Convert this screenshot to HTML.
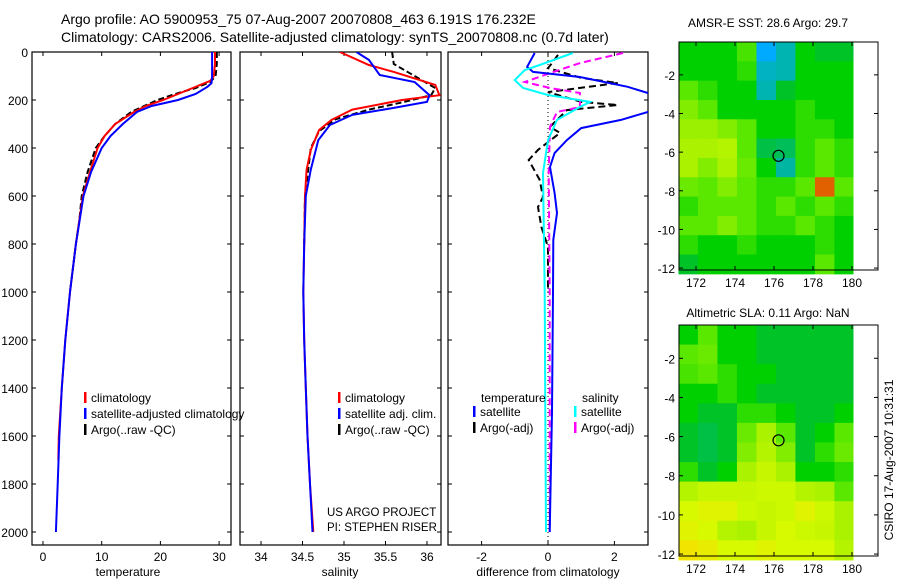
<!DOCTYPE html>
<html><head><meta charset="utf-8"><style>
html,body{margin:0;padding:0;background:#fff}
svg{display:block;font-family:"Liberation Sans",sans-serif}
text{fill:#000}
</style></head><body>
<svg id="chart" width="900" height="580" viewBox="0 0 900 580">
<text x="61" y="24" font-size="14">Argo profile: AO 5900953_75 07-Aug-2007 20070808_463 6.191S 176.232E</text>
<text x="61" y="42" font-size="14">Climatology: CARS2006. Satellite-adjusted climatology: synTS_20070808.nc (0.7d later)</text>
<g id="p1"></g>
<g id="p2"></g>
<g id="p3"></g>
<g id="m1"></g>
<g id="m2"></g>
<text x="768" y="27" font-size="12" text-anchor="middle">AMSR-E SST: 28.6 Argo: 29.7</text>
<text x="768" y="317" font-size="12" text-anchor="middle">Altimetric SLA: 0.11 Argo: NaN</text>
<text transform="translate(893,460) rotate(-90)" font-size="12" text-anchor="middle">CSIRO 17-Aug-2007 10:31:31</text>
<text x="327" y="516" font-size="11.5">US ARGO PROJECT</text>
<text x="327" y="531" font-size="11.5">PI: STEPHEN RISER</text>
</svg>
<script>
// ---- temperature data ----
const tDepthClim = [0,50,100,120,150,175,200,225,250,300,350,400,500,600,800,1000,1200,1400,1600,1700];
const tClim = [29.3,29.3,29.1,28.5,25.5,23,20.5,17.5,15.5,12.3,10.5,9.3,8,6.8,5.6,4.6,3.8,3.2,2.7,2.6];
const tDepthSat = [0,50,100,130,145,175,200,225,250,300,350,400,500,600,800,1000,1200,1400,1600,1800,2000];
const tSat = [28.8,28.8,28.8,28.7,28,26,23,18.5,16,13.6,11.5,10,8.2,6.9,5.6,4.6,3.8,3.2,2.8,2.5,2.2];
const tDepthArgo = [0,50,100,125,150,175,200,250,300,350,400,500,600,700,800,1000];
const tArgo = [29.6,29.6,29.4,28.5,26,22.5,19.5,15,12.3,10.5,9,7.6,6.6,6.2,5.6,4.6];
// ---- salinity data ----
const sDepthClim = [0,54,83,137,180,200,240,283,325,408,490,600,800,1000,1200,1400,1600,1800,2000];
const sClim = [34.95,35.3,35.6,36.1,36.15,35.7,35.1,34.85,34.7,34.6,34.55,34.53,34.52,34.51,34.52,34.54,34.56,34.59,34.63];
const sDepthSat = [0,33,96,125,180,208,233,262,304,367,490,600,800,1000,1200,1400,1600,1800,2000];
const sSat = [35.15,35.3,35.43,35.85,36.03,36,35.6,35.1,34.83,34.69,34.6,34.54,34.52,34.51,34.52,34.54,34.56,34.59,34.62];
const sDepthArgo = [0,50,100,150,180,210,240,280,330,400,600,800];
const sArgo = [35.58,35.6,35.85,36.1,36.05,35.7,35.3,34.9,34.7,34.6,34.53,34.52];
// ---- differences ----
const dDepthTSat = [4,62,83,104,145,179,242,283,317,367,421,479,588,671,783,1000,1500,2000];
const dTSat = [-0.4,-0.63,-0.45,0.96,2.4,3.2,3.2,2.2,1,0.57,0.2,0.06,0.2,0.27,0.16,0.15,0.12,0.05];
const dDepthSSat = [4,54,75,117,150,179,208,229,283,367,504,1000,1500,2000];
const dSSat = [0.75,-0.25,-0.7,-1,-0.75,0,1.27,0.96,0.27,0,-0.15,-0.1,-0.08,-0.06];
const dDepthSArgo = [4,46,88,125,150,171,229,250,312,500,1000,1500,2000];
const dSArgo = [2.26,0.97,0.06,-0.7,0.06,0.96,0.96,0.27,0.06,0.02,0.05,0.05,0.05];
const dDepthTArgo = [12,50,67,108,129,167,208,221,242,312,337,408,450,533,604,646,729,812,950,1000];
const dTArgo = [0.3,0.1,0,1,2.1,0,1,2.1,0.57,0.06,0.36,-0.3,-0.58,-0.25,-0.15,-0.3,-0.2,0,0,0];
// ---- maps (1-degree coarse cells, normalized colour index) ----
const sstRows = [
[.5,.5,.5,.58,.2,.3,.5,.45,.45],
[.5,.5,.5,.55,.28,.3,.5,.5,.5],
[.6,.55,.5,.5,.3,.45,.5,.5,.5],
[.65,.6,.5,.5,.5,.5,.55,.5,.5],
[.68,.68,.65,.6,.5,.5,.55,.55,.5],
[.7,.7,.72,.6,.42,.4,.55,.6,.55],
[.7,.65,.7,.62,.5,.32,.55,.6,.55],
[.62,.6,.65,.6,.55,.55,.6,.95,.6],
[.55,.6,.6,.6,.55,.6,.55,.6,.55],
[.6,.6,.65,.6,.55,.55,.6,.55,.5],
[.55,.5,.5,.55,.5,.5,.5,.55,.5],
[.45,.5,.5,.5,.5,.5,.5,.6,.5]];
const slaRows = [
[.5,.6,.5,.5,.45,.45,.45,.45,.45],
[.6,.62,.5,.5,.45,.45,.45,.45,.45],
[.58,.6,.55,.5,.5,.45,.45,.45,.45],
[.5,.5,.55,.5,.45,.45,.45,.45,.45],
[.5,.45,.45,.55,.55,.5,.45,.45,.5],
[.45,.42,.45,.62,.7,.6,.45,.5,.6],
[.45,.42,.45,.65,.72,.65,.45,.55,.62],
[.55,.45,.5,.7,.75,.7,.5,.5,.55],
[.72,.75,.75,.75,.76,.76,.72,.7,.6],
[.78,.8,.8,.76,.75,.76,.8,.76,.7],
[.8,.78,.72,.7,.75,.78,.76,.75,.7],
[.84,.82,.78,.78,.8,.78,.78,.78,.72]];
const mapLonTicks = [172,174,176,178,180];
const mapLatTicks = [-2,-4,-6,-8,-10,-12];

const NS='http://www.w3.org/2000/svg';
function mk(parent,tag,attrs){const e=document.createElementNS(NS,tag);for(const k in attrs)e.setAttribute(k,attrs[k]);parent.appendChild(e);return e;}
const TOP=52, BOT=545;
const yD = d => 52 + d*0.24;

function panel(g, x0, x1, xs, xticks, xlabel, xlabx, name){
  const r=mk(g,'rect',{x:x0,y:TOP,width:x1-x0,height:BOT-TOP,fill:'none',stroke:'#000','stroke-width':1.2});
  
  
  xticks.forEach(v=>{
    const x=xs(v);
    mk(g,'line',{x1:x,y1:BOT,x2:x,y2:BOT-4,stroke:'#000'});
    mk(g,'line',{x1:x,y1:TOP,x2:x,y2:TOP+4,stroke:'#000'});
    const t=mk(g,'text',{x:x,y:BOT+16,'font-size':12,'text-anchor':'middle'});
    t.textContent=v;
    
    
  });
  for(let d=0;d<=2000;d+=200){
    mk(g,'line',{x1:x0,y1:yD(d),x2:x0+4,y2:yD(d),stroke:'#000'});
    mk(g,'line',{x1:x1,y1:yD(d),x2:x1-4,y2:yD(d),stroke:'#000'});
  }
  const xl=mk(g,'text',{x:xlabx,y:576,'font-size':12,'text-anchor':'middle'});
  xl.textContent=xlabel;
  
  
}
function line(g, depths, vals, xs, color, dash, name, clip){
  let p='';
  depths.forEach((d,i)=>{p+=(i?'L':'M')+xs(vals[i]).toFixed(1)+','+yD(d).toFixed(1);});
  const a={d:p,fill:'none',stroke:color,'stroke-width':2};
  if(dash)a['stroke-dasharray']=dash;
  if(clip)a['clip-path']=clip;
  const e=mk(g,'path',a);
  
  
}
function legend(g,x,y,color,label){
  mk(g,'rect',{x:x,y:y-10,width:2.5,height:11,fill:color});
  const t=mk(g,'text',{x:x+7,y:y,'font-size':12});
  t.textContent=label;
  
  
}
const svg=document.getElementById('chart');
const defs=mk(svg,'defs',{});
[['c1',32,231],['c2',240,441],['c3',448,648]].forEach(c=>{
  const cp=mk(defs,'clipPath',{id:c[0]});mk(cp,'rect',{x:c[1],y:TOP,width:c[2]-c[1],height:BOT-TOP});
});

// Panel 1
const p1=document.getElementById('p1');
const xT=v=>43+v*5.87;
panel(p1,32,231,xT,[0,10,20,30],'temperature',128,'temperature-panel');
for(let d=0;d<=2000;d+=200){const t=mk(p1,'text',{x:28,y:yD(d)+5,'font-size':12,'text-anchor':'end'});t.textContent=d;
  
  }
line(p1,tDepthArgo,tArgo,xT,'#000','6,3','temp-argo-line','url(#c1)');
line(p1,tDepthClim,tClim,xT,'#f00',null,'temp-climatology-line','url(#c1)');
line(p1,tDepthSat,tSat,xT,'#00f',null,'temp-satellite-line','url(#c1)');
legend(p1,84,402,'#f00','climatology');
legend(p1,84,418,'#00f','satellite-adjusted climatology');
legend(p1,84,434,'#000','Argo(..raw -QC)');

// Panel 2
const p2=document.getElementById('p2');
const xS=v=>261+(v-34)*83;
panel(p2,240,441,xS,[34,34.5,35,35.5,36],'salinity',340,'salinity-panel');
line(p2,sDepthArgo,sArgo,xS,'#000','6,3','sal-argo-line','url(#c2)');
line(p2,sDepthClim,sClim,xS,'#f00',null,'sal-climatology-line','url(#c2)');
line(p2,sDepthSat,sSat,xS,'#00f',null,'sal-satellite-line','url(#c2)');
legend(p2,338,402,'#f00','climatology');
legend(p2,338,418,'#00f','satellite adj. clim.');
legend(p2,338,434,'#000','Argo(..raw -QC)');

// Panel 3
const p3=document.getElementById('p3');
const xDf=v=>548+v*33.2;
panel(p3,448,648,xDf,[-2,0,2],'difference from climatology',548,'difference-panel');
mk(p3,'line',{x1:548,y1:TOP,x2:548,y2:BOT,stroke:'#000','stroke-dasharray':'1,3'});
line(p3,dDepthTArgo,dTArgo,xDf,'#000','7,4','diff-temp-argo-line','url(#c3)');
line(p3,dDepthSArgo,dSArgo,xDf,'#f0f','7,4','diff-sal-argo-line','url(#c3)');
line(p3,dDepthTSat,dTSat,xDf,'#00f',null,'diff-temp-satellite-line','url(#c3)');
line(p3,dDepthSSat,dSSat,xDf,'#0ff',null,'diff-sal-satellite-line','url(#c3)');
const lt=mk(p3,'text',{x:481,y:402,'font-size':12});lt.textContent='temperature';


const ls=mk(p3,'text',{x:582,y:402,'font-size':12});ls.textContent='salinity';


legend(p3,473,416,'#00f','satellite');
legend(p3,473,432,'#000','Argo(-adj)');
legend(p3,574,416,'#0ff','satellite');
legend(p3,574,432,'#f0f','Argo(-adj)');

// Maps
const stops=[[0,[0,0,160]],[0.2,[0,170,255]],[0.35,[0,185,140]],[0.45,[0,195,40]],[0.5,[0,208,0]],[0.6,[90,232,0]],[0.7,[170,242,0]],[0.78,[215,250,0]],[0.85,[245,225,0]],[0.92,[240,130,0]],[1,[200,40,0]]];
function cmap(v){for(let i=1;i<stops.length;i++){if(v<=stops[i][0]){const a=stops[i-1],b=stops[i],t=(v-a[0])/(b[0]-a[0]);
  return 'rgb('+a[1].map((c,k)=>Math.round(c+(b[1][k]-c)*t)).join(',')+')';}}return 'rgb(200,40,0)';}
function drawMap(g,rows,top,bot,name){
  const left=679,right=878,dataRight=853;
  const lonX=lon=>696+(lon-172)*19.5;
  const latY=lat=>top+(-0.3-lat)*((bot-top)/11.8);
  rows.forEach((row,ri)=>row.forEach((v,ci)=>{
    const x0=lonX(171.1+ci), x1=Math.min(lonX(172.1+ci),dataRight);
    const c=mk(g,'rect',{x:x0,y:latY(-0.3-ri),width:x1-x0+0.5,height:latY(-1.3-ri)-latY(-0.3-ri)+0.5,fill:cmap(v)});
    
    
  }));
  const f=mk(g,'rect',{x:left,y:top,width:right-left,height:bot-top,fill:'none',stroke:'#000'});
  
  
  mapLonTicks.forEach(l=>{const x=lonX(l);mk(g,'line',{x1:x,y1:bot,x2:x,y2:bot-4,stroke:'#000'});mk(g,'line',{x1:x,y1:top,x2:x,y2:top+4,stroke:'#000'});
    const t=mk(g,'text',{x:x,y:bot+17,'font-size':12,'text-anchor':'middle'});t.textContent=l;
    
    });
  mapLatTicks.forEach(l=>{const y=latY(l);mk(g,'line',{x1:left,y1:y,x2:left+4,y2:y,stroke:'#000'});mk(g,'line',{x1:right,y1:y,x2:right-4,y2:y,stroke:'#000'});
    const t=mk(g,'text',{x:675,y:y+5,'font-size':12,'text-anchor':'end'});t.textContent=l;
    
    });
  const m=mk(g,'circle',{cx:lonX(176.232),cy:latY(-6.191),r:5.5,fill:'none',stroke:'#000','stroke-width':1.2});
  
  
}
drawMap(document.getElementById('m1'),sstRows,42,270,'sst-map');
drawMap(document.getElementById('m2'),slaRows,325,556,'sla-map');
</script>
</body></html>
